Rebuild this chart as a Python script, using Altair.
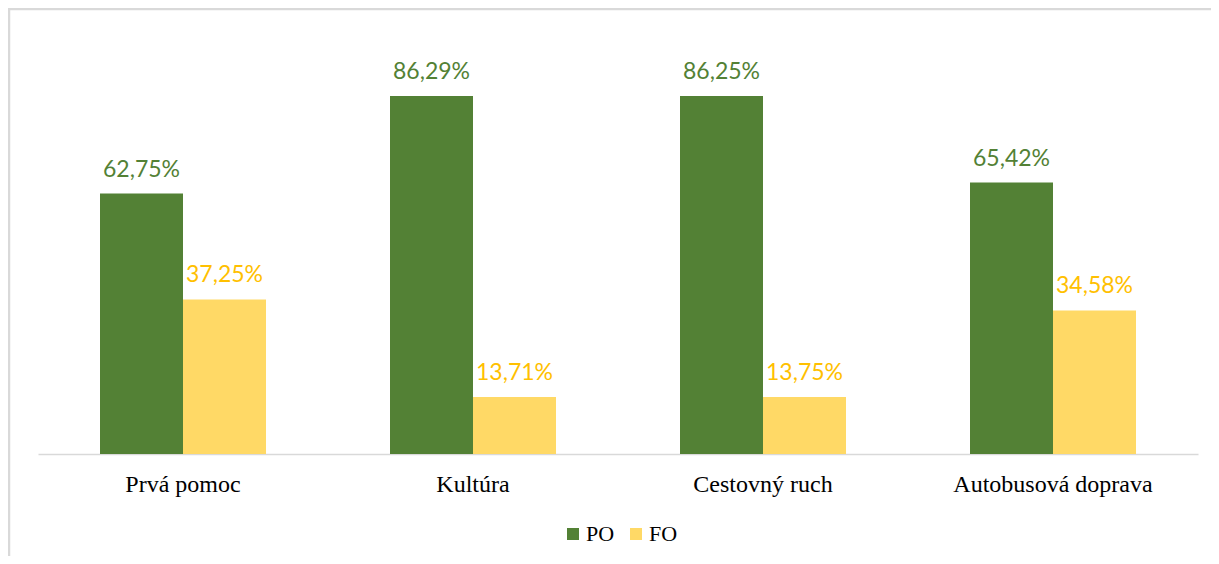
import altair as alt
import pandas as pd

categories = ["Prvá pomoc", "Kultúra", "Cestovný ruch", "Autobusová doprava"]
series = ["PO", "FO"]
po_values = [62.75, 86.29, 86.25, 65.42]
fo_values = [37.25, 13.71, 13.75, 34.58]
bar_colors = ["#538135", "#FFD966"]
label_colors = ["#538135", "#FFC000"]

rows = []
for c, p, f in zip(categories, po_values, fo_values):
    rows.append({"cat": c, "ser": "PO", "val": p, "lab": f"{p:.2f}".replace(".", ",") + "%"})
    rows.append({"cat": c, "ser": "FO", "val": f, "lab": f"{f:.2f}".replace(".", ",") + "%"})
df = pd.DataFrame(rows)

W, H = 1160, 415

x = alt.X("cat:N", sort=categories, title=None,
          scale=alt.Scale(paddingInner=0.4276, paddingOuter=0.2138),
          axis=alt.Axis(labelAngle=0, labelFont="Liberation Serif", labelFontSize=24,
                        labelColor="#000000", labelPadding=18, ticks=False, labelLimit=0,
                        domainColor="#d9d9d9", domainWidth=1.5))
y = alt.Y("val:Q", scale=alt.Scale(domain=[0, 100]), axis=None)
xo = alt.XOffset("ser:N", sort=series)

bars = alt.Chart(df).mark_bar().encode(
    x=x, y=y, xOffset=xo,
    color=alt.Color("ser:N", sort=series,
                    scale=alt.Scale(domain=series, range=bar_colors),
                    legend=alt.Legend(title=None, orient="none", legendX=524, legendY=484,
                                      direction="horizontal", symbolType="square",
                                      symbolSize=144, symbolStrokeWidth=0,
                                      labelFont="Liberation Serif", labelFontSize=22,
                                      labelColor="#000000", columnPadding=10, labelOffset=2)),
)

labels = alt.Chart(df).mark_text(baseline="bottom", dy=-12, font="Lato", fontSize=23).encode(
    x=x, y=y, xOffset=xo, text="lab:N",
    color=alt.Color("ser:N", sort=series,
                    scale=alt.Scale(domain=series, range=label_colors), legend=None),
)

one = pd.DataFrame({"k": [0]})
top_line = alt.Chart(one).mark_rule(stroke="#d9d9d9", strokeWidth=2.5, clip=False).encode(
    x=alt.value(-30), x2=alt.value(W + 200), y=alt.value(-30))
left_line = alt.Chart(one).mark_rule(stroke="#d9d9d9", strokeWidth=2.5, clip=False).encode(
    x=alt.value(-29), y=alt.value(-31), y2=alt.value(H + 200))

chart = alt.layer(top_line, left_line, bars, labels).resolve_scale(color="independent").properties(
    width=W, height=H,
    autosize=alt.AutoSizeParams(type="none"),
    padding={"left": 30, "top": 31, "right": 13, "bottom": 102},
).configure_view(stroke=None)

chart.save("out.html", embed_options={"renderer": "svg", "actions": False})
